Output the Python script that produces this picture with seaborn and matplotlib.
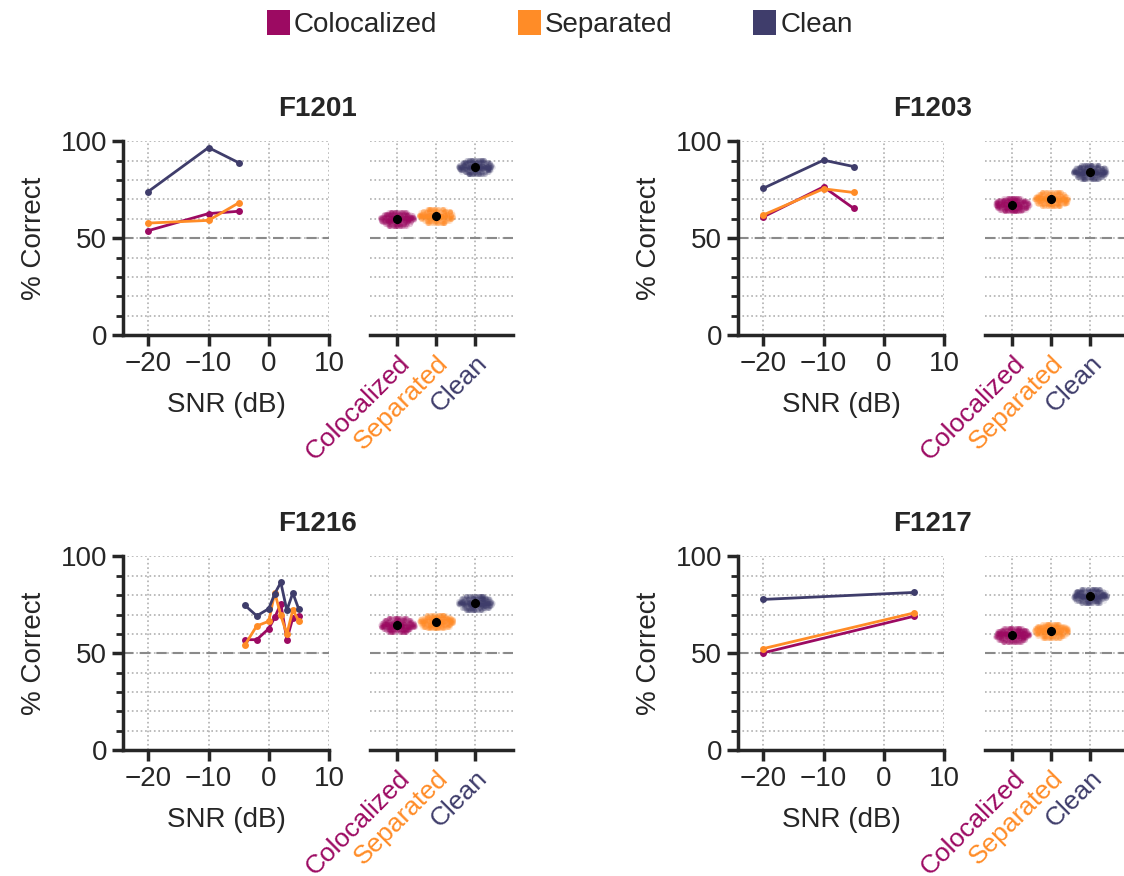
import seaborn as sns
import matplotlib.pyplot as plt
import numpy as np
import pandas as pd
from matplotlib.patches import Patch
from matplotlib.ticker import MultipleLocator

# conditions and colours
conditions = ['Colocalized', 'Separated', 'Clean']
colors = ['#9c0a62', '#ff8c27', '#3f3d6b']
panels = ['F1201', 'F1203', 'F1216', 'F1217']

# % correct vs SNR (line plots)
snr_f1201 = [-20, -10, -5]
coloc_f1201 = [53.9, 62.7, 63.9]
sep_f1201 = [57.8, 59.2, 68.2]
clean_f1201 = [74.1, 96.8, 89.0]

snr_f1203 = [-20, -10, -5]
coloc_f1203 = [61.0, 76.5, 65.4]
sep_f1203 = [62.0, 75.5, 73.6]
clean_f1203 = [75.8, 90.3, 87.0]

snr_f1216 = [-4, -2, 0, 1, 2, 3, 4, 5]
coloc_f1216 = [57.0, 57.0, 62.7, 68.5, 75.6, 57.0, 68.3, 69.4]
sep_f1216 = [54.1, 64.1, 66.5, 81.3, 69.6, 59.8, 72.5, 66.5]
clean_f1216 = [74.9, 69.3, 73.0, 80.8, 86.6, 72.2, 81.1, 72.6]

snr_f1217 = [-20, 5]
coloc_f1217 = [50.2, 69.1]
sep_f1217 = [52.4, 70.8]
clean_f1217 = [77.8, 81.4]

# pooled estimates (clouds on the right of each panel)
cloud_f1201_coloc = [56.5, 57.5, 58.2, 58.8, 59.3, 59.8, 60.2, 60.7, 61.2, 61.8, 62.5, 63.5]
cloud_f1201_sep = [58.0, 59.0, 59.7, 60.3, 60.8, 61.3, 61.7, 62.2, 62.7, 63.3, 64.0, 65.0]
cloud_f1201_clean = [83.3, 84.3, 85.0, 85.6, 86.1, 86.6, 87.0, 87.5, 88.0, 88.6, 89.3, 90.3]
cloud_f1203_coloc = [63.8, 64.8, 65.5, 66.1, 66.6, 67.1, 67.5, 68.0, 68.5, 69.1, 69.8, 70.8]
cloud_f1203_sep = [66.7, 67.7, 68.4, 69.0, 69.5, 70.0, 70.4, 70.9, 71.4, 72.0, 72.7, 73.7]
cloud_f1203_clean = [80.7, 81.7, 82.4, 83.0, 83.5, 84.0, 84.4, 84.9, 85.4, 86.0, 86.7, 87.7]
cloud_f1216_coloc = [61.0, 62.0, 62.7, 63.3, 63.8, 64.3, 64.7, 65.2, 65.7, 66.3, 67.0, 68.0]
cloud_f1216_sep = [62.8, 63.8, 64.5, 65.1, 65.6, 66.1, 66.5, 67.0, 67.5, 68.1, 68.8, 69.8]
cloud_f1216_clean = [72.5, 73.5, 74.2, 74.8, 75.3, 75.8, 76.2, 76.7, 77.2, 77.8, 78.5, 79.5]
cloud_f1217_coloc = [56.0, 57.0, 57.7, 58.3, 58.8, 59.3, 59.7, 60.2, 60.7, 61.3, 62.0, 63.0]
cloud_f1217_sep = [58.1, 59.1, 59.8, 60.4, 60.9, 61.4, 61.8, 62.3, 62.8, 63.4, 64.1, 65.1]
cloud_f1217_clean = [76.1, 77.1, 77.8, 78.4, 78.9, 79.4, 79.8, 80.3, 80.8, 81.4, 82.1, 83.1]

lines = {
    'F1201': (snr_f1201, [coloc_f1201, sep_f1201, clean_f1201]),
    'F1203': (snr_f1203, [coloc_f1203, sep_f1203, clean_f1203]),
    'F1216': (snr_f1216, [coloc_f1216, sep_f1216, clean_f1216]),
    'F1217': (snr_f1217, [coloc_f1217, sep_f1217, clean_f1217]),
}
clouds = {
    'F1201': [cloud_f1201_coloc, cloud_f1201_sep, cloud_f1201_clean],
    'F1203': [cloud_f1203_coloc, cloud_f1203_sep, cloud_f1203_clean],
    'F1216': [cloud_f1216_coloc, cloud_f1216_sep, cloud_f1216_clean],
    'F1217': [cloud_f1217_coloc, cloud_f1217_sep, cloud_f1217_clean],
}

sns.set_style('ticks')
plt.rcParams['font.family'] = ['Liberation Sans', 'DejaVu Sans']
plt.rcParams['font.size'] = 20
FS = 20

fig = plt.figure(figsize=(11.24, 8.76), dpi=100)

# axes positions (figure fractions)
rows = [0.6176, 0.1438]
cols = [(0.1094, 0.3292), (0.6566, 0.8763)]
line_w, strip_w, h = 0.1833, 0.1272, 0.221
grid_kw = dict(color='#b0b0b0', linestyle=':', linewidth=1.2)

for i, name in enumerate(panels):
    r, c = divmod(i, 2)
    y0 = rows[r]
    xl, xs = cols[c]
    ax = fig.add_axes([xl, y0, line_w, h])
    axs = fig.add_axes([xs, y0, strip_w, h])

    # line plot
    snr, vals = lines[name]
    df = pd.concat([pd.DataFrame({'SNR': snr, 'pc': v, 'cond': cond})
                    for v, cond in zip(vals, conditions)])
    ax.axhline(50, color='#8a8a8a', linestyle='--', linewidth=1.5, dashes=(5, 3), zorder=1)
    sns.lineplot(data=df, x='SNR', y='pc', hue='cond', hue_order=conditions,
                 palette=colors, marker='o', markersize=5, markeredgewidth=0,
                 linewidth=2, legend=False, ax=ax, zorder=3)
    ax.set_xlim(-24.2, 10)
    ax.set_xticks([-20, -10, 0, 10])
    ax.set_xlabel('SNR (dB)', fontsize=FS, labelpad=11)
    ax.set_ylabel('% Correct', fontsize=FS, labelpad=10)

    # pooled clouds: each row of points gets a narrower jitter away from the centre
    axs.axhline(50, color='#8a8a8a', linestyle='--', linewidth=1.5, dashes=(5, 3), zorder=1)
    for vals_c, cond, col in zip(clouds[name], conditions, colors):
        m = np.mean(vals_c)
        for v in vals_c:
            d = abs(v - m) / 4.2
            w = 0.45 * np.sqrt(max(1 - d * d, 0.06))
            sns.stripplot(x=[cond] * 40, y=[v] * 40, order=conditions, color=col,
                          jitter=w, size=3.5, alpha=0.13, linewidth=0, ax=axs, zorder=2)
    cdf = pd.concat([pd.DataFrame({'cond': cond, 'pc': v})
                     for v, cond in zip(clouds[name], conditions)])
    sns.pointplot(data=cdf, x='cond', y='pc', order=conditions, color='black',
                  errorbar=('sd', 0.7), linestyle='none', marker='o', markersize=4.5,
                  err_kws={'linewidth': 2.5}, ax=axs, zorder=4)
    axs.set_xlim(-0.7, 2.97)
    axs.set_xlabel('')
    axs.set_ylabel('')
    axs.set_xticks([0, 1, 2])
    axs.set_xticklabels(conditions, rotation=45, ha='right', rotation_mode='anchor',
                        fontsize=19)
    for lab, col in zip(axs.get_xticklabels(), colors):
        lab.set_color(col)
    axs.spines['left'].set_visible(False)
    axs.tick_params(axis='y', which='both', left=False, labelleft=False)

    for a in (ax, axs):
        a.set_ylim(0, 100)
        a.yaxis.set_major_locator(MultipleLocator(50))
        a.yaxis.set_minor_locator(MultipleLocator(10))
        a.grid(True, which='both', axis='y', **grid_kw)
        a.grid(True, which='major', axis='x', **grid_kw)
        a.set_axisbelow(True)
        a.spines['top'].set_visible(False)
        a.spines['right'].set_visible(False)
        for s in ('left', 'bottom'):
            a.spines[s].set_linewidth(2.5)
        a.tick_params(which='major', length=8, width=2.5)
        a.tick_params(which='minor', length=5, width=2)
    ax.tick_params(labelsize=FS)

    # panel title centred over the pair
    fig.text((xl + xs + strip_w) / 2, y0 + h + 0.037, name, ha='center', va='center',
             fontsize=FS, fontweight='bold')

handles = [Patch(facecolor=c, edgecolor='none', label=l) for c, l in zip(colors, conditions)]
fig.legend(handles=handles, loc='center', bbox_to_anchor=(0.498, 0.973), ncol=3,
           frameon=False, fontsize=FS, handlelength=0.83, handleheight=1.0,
           handletextpad=0.15, columnspacing=2.9)

fig.savefig('out.png', dpi=100)
